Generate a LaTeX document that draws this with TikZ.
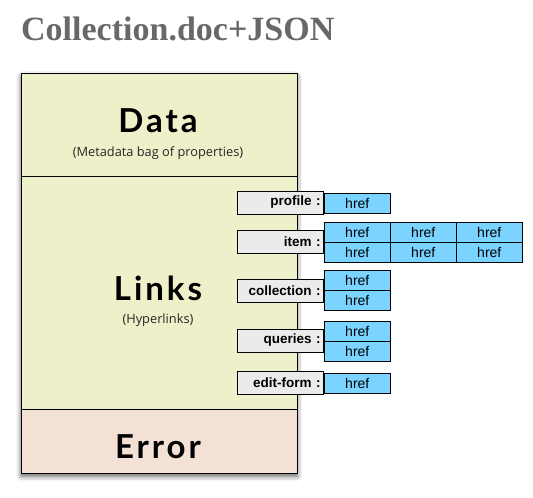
\documentclass[tikz,border=0pt]{standalone}
\usepackage{fontspec}
\setmainfont{Liberation Sans}
\newfontfamily\titlefont{Liberation Serif}
\newfontfamily\handfont[LetterSpace=9]{Lato}
\newfontfamily\subfont{Open Sans}
\usetikzlibrary{shadows.blur}
\definecolor{datafill}{HTML}{EEF0C9}
\definecolor{errfill}{HTML}{F3E1D6}
\definecolor{labfill}{HTML}{EBEBEB}
\definecolor{hreffill}{HTML}{7AD4FF}
\definecolor{titlegray}{HTML}{686868}
\tikzset{
  section/.style={draw=black, line width=0.8pt, anchor=north west, minimum width=276pt, inner sep=0pt},
  handtext/.style={font=\handfont\bfseries\fontsize{33}{36}\selectfont, inner sep=0pt},
  subtext/.style={font=\subfont\fontsize{12.8}{14}\selectfont, text=black!85, inner sep=0pt},
  labbox/.style={draw=black, line width=0.6pt, fill=labfill, anchor=east, minimum height=23pt,
    text width=80pt, align=right, inner xsep=3pt, inner ysep=0pt,
    font=\bfseries\fontsize{13.5}{15}\selectfont},
  hrefcell/.style={draw=black, line width=0.6pt, fill=hreffill, anchor=north west,
    minimum width=66pt, minimum height=20pt, inner sep=0pt, font=\fontsize{14}{15}\selectfont},
}
\begin{document}
\begin{tikzpicture}[x=1pt,y=-1pt]
\useasboundingbox (0,0) rectangle (533,498);
\node[anchor=base west, font=\titlefont\bfseries\fontsize{34}{36}\selectfont, text=titlegray, inner sep=0pt] (title) at (21,40) {Collection.doc+JSON};

\node[fill=datafill, anchor=north west, minimum width=276pt, minimum height=400pt, inner sep=0pt,
  blur shadow={shadow xshift=0pt, shadow yshift=-3pt, shadow blur radius=5pt, shadow opacity=65}] (frame) at (21,73) {};
\node[section, fill=datafill, minimum height=103pt] (data) at (21,73) {};
\node[section, fill=datafill, minimum height=233pt] (links) at (21,176) {};
\node[section, fill=errfill, minimum height=64pt] (error) at (21,409) {};

\node[handtext] (datat) at (158,121) {Data};
\node[subtext] (datas) at (158,153) {(Metadata bag of properties)};
\node[handtext] (linkst) at (158,288) {Links};
\node[subtext] (linkss) at (158,320) {(Hyperlinks)};
\node[handtext] (errort) at (158,447) {Error};

% profile
\node[labbox] (lprofile) at (324,202.5) {profile :};
\node[hrefcell] (hp) at (324,193) {href};
% item
\node[labbox] (litem) at (324,242) {item :};
\node[hrefcell] (hi11) at (324,222) {href};
\node[hrefcell] (hi12) at (390,222) {href};
\node[hrefcell] (hi13) at (456,222) {href};
\node[hrefcell] (hi21) at (324,242) {href};
\node[hrefcell] (hi22) at (390,242) {href};
\node[hrefcell] (hi23) at (456,242) {href};
% collection
\node[labbox] (lcoll) at (324,290.5) {collection :};
\node[hrefcell] (hc1) at (324,270) {href};
\node[hrefcell] (hc2) at (324,290) {href};
% queries
\node[labbox] (lq) at (324,340.5) {queries :};
\node[hrefcell] (hq1) at (324,321) {href};
\node[hrefcell] (hq2) at (324,341) {href};
% edit-form
\node[labbox] (le) at (324,382.5) {edit-form :};
\node[hrefcell] (he) at (324,373) {href};
\end{tikzpicture}
\end{document}
